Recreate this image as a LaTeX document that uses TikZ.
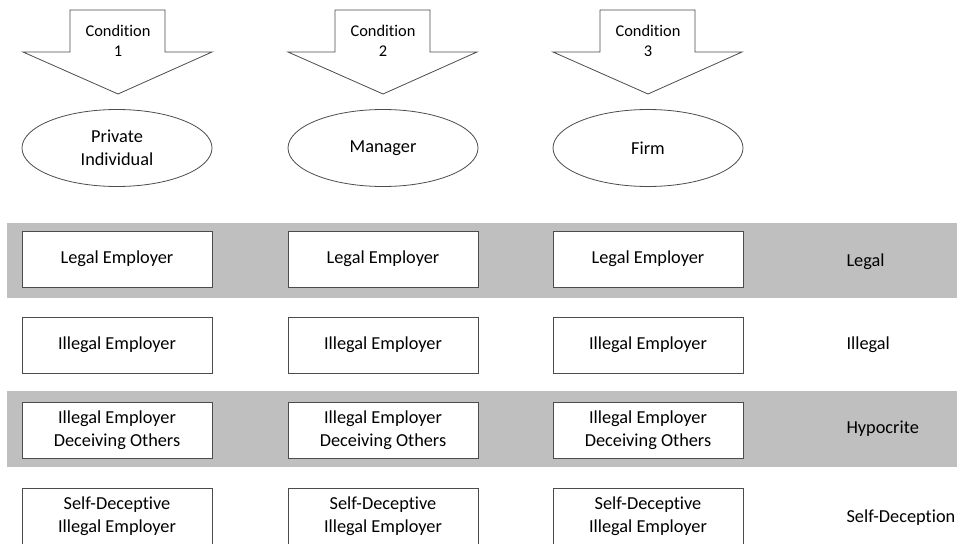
\documentclass[tikz,border=0pt]{standalone}
\usepackage{fontspec}
\setmainfont{Carlito}[RawFeature=-liga]
\usetikzlibrary{positioning, shapes.geometric}

\tikzset{
	box/.style = {rectangle, draw = black!70, fill = white, line width = 0.8pt,
		minimum width = 190pt, minimum height = 56pt, align = center,
		font = \fontsize{18.3}{23}\selectfont},
	actor/.style = {ellipse, draw = black!70, fill = white, line width = 0.8pt,
		minimum width = 190pt, minimum height = 77pt, inner sep = 0pt,
		align = center, font = \fontsize{18.3}{23}\selectfont},
	cond/.style = {draw = black!70, fill = white, line width = 0.8pt},
	band/.style = {fill = black!25, draw = none},
	kind/.style = {anchor = west, font = \fontsize{18.3}{23}\selectfont}
}

\begin{document}
\begin{tikzpicture}[x = 1pt, y = -1pt]
\useasboundingbox (0,0) rectangle (957,543);

% grey bands
\fill[band] (7,223) rectangle (957,298);
\fill[band] (7,391) rectangle (957,467);

% condition arrows
\foreach \c/\n in {118/1, 383/2, 648/3} {
	\draw[cond] (\c-48,10) -- (\c+47,10) -- (\c+47,52) -- (\c+94,52)
		-- (\c,94) -- (\c-95,52) -- (\c-48,52) -- cycle;
	\node[align = center, font = \fontsize{16.4}{20}\selectfont] (cond\n) at (\c,41) {Condition\\\n};
}

% actors
\node[actor] (indiv) at (117,148) {Private\\Individual};
\node[actor] (manager) at (383,148) {Manager};
\node[actor] (firm) at (648,148) {Firm};

% row 1
\node[box] (legal1) at (117,259) {Legal Employer};
\node[box] (legal2) at (383,259) {Legal Employer};
\node[box] (legal3) at (648,259) {Legal Employer};
\node[kind] (legal) at (843,262) {Legal};

% row 2
\node[box] (illegal1) at (117,345) {Illegal Employer};
\node[box] (illegal2) at (383,345) {Illegal Employer};
\node[box] (illegal3) at (648,345) {Illegal Employer};
\node[kind] (illegal) at (843,345) {Illegal};

% row 3
\node[box] (hypo1) at (117,430.5) {Illegal Employer\\Deceiving Others};
\node[box] (hypo2) at (383,430.5) {Illegal Employer\\Deceiving Others};
\node[box] (hypo3) at (648,430.5) {Illegal Employer\\Deceiving Others};
\node[kind] (hypo) at (843,429) {Hypocrite};

% row 4
\node[box] (self1) at (117,516) {Self-Deceptive\\Illegal Employer};
\node[box] (self2) at (383,516) {Self-Deceptive\\Illegal Employer};
\node[box] (self3) at (648,516) {Self-Deceptive\\Illegal Employer};
\node[kind] (self) at (843,518) {Self-Deception};
\end{tikzpicture}
\end{document}
